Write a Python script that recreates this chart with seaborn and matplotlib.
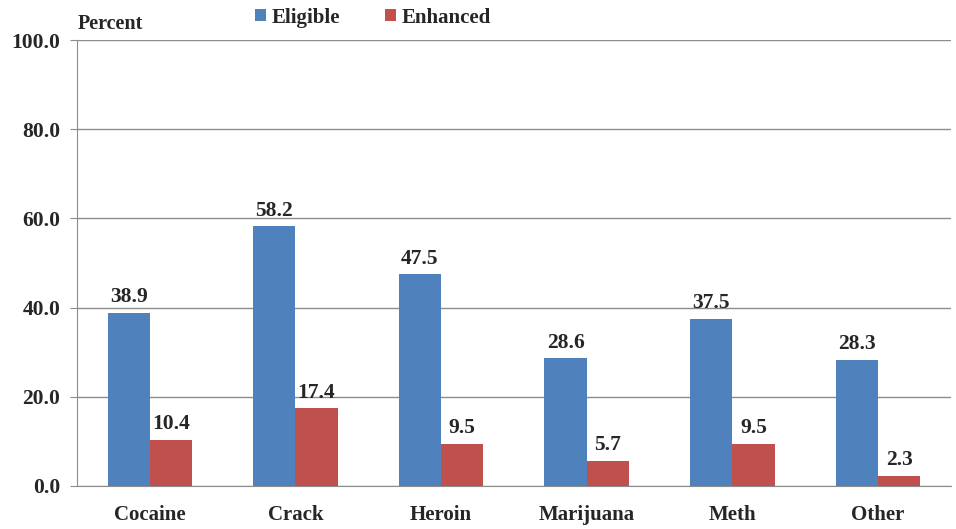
import matplotlib
matplotlib.use("Agg")
import matplotlib.pyplot as plt
import seaborn as sns
import pandas as pd

drugs = ["Cocaine", "Crack", "Heroin", "Marijuana", "Meth", "Other"]
eligible = [38.9, 58.2, 47.5, 28.6, 37.5, 28.3]
enhanced = [10.4, 17.4, 9.5, 5.7, 9.5, 2.3]
series = ["Eligible", "Enhanced"]
yticks = [0, 20, 40, 60, 80, 100]

df = pd.DataFrame({
    "drug": drugs * 2,
    "series": [series[0]] * len(drugs) + [series[1]] * len(drugs),
    "pct": eligible + enhanced,
})

sns.set_style("white")
plt.rcParams["font.family"] = ["Liberation Serif", "DejaVu Serif"]
plt.rcParams["font.weight"] = "bold"

fig = plt.figure(figsize=(9.56, 5.29), dpi=100)
ax = fig.add_axes([0.0805, 0.0813, 0.914, 0.843])

g = sns.barplot(data=df, x="drug", y="pct", hue="series",
                palette=["#4F81BD", "#C0504D"], width=0.58,
                saturation=1, ax=ax, legend=True, zorder=3, linewidth=0)

for cont in ax.containers:
    ax.bar_label(cont, fmt="%.1f", padding=4, fontsize=15.5, fontweight="bold")

ax.set_ylim(0, 100)
ax.set_yticks(yticks)
ax.set_yticklabels([f"{v:.1f}" for v in yticks], fontsize=15.5, fontweight="bold")
ax.set_xticklabels(drugs, fontsize=15, fontweight="bold")
ax.set_xlim(-0.5, len(drugs) - 0.5)
ax.grid(axis="y", color="#8c8c8c", linewidth=1, zorder=0)
ax.set_axisbelow(True)
for s in ["top", "right"]:
    ax.spines[s].set_visible(False)
ax.spines["left"].set_color("#8c8c8c")
ax.spines["bottom"].set_color("#8c8c8c")
ax.tick_params(axis="y", length=5, color="#8c8c8c", left=True, pad=7)
ax.tick_params(axis="x", length=0, pad=14)
ax.set_xlabel("")
ax.set_ylabel("")

fig.text(0.081, 0.955, "Percent", fontsize=14.5, fontweight="bold", ha="left", va="center")

leg = ax.legend(loc="upper center", bbox_to_anchor=(0.339, 1.115), ncol=2, frameon=False,
                fontsize=15, handlelength=0.5, handleheight=0.5, handletextpad=0.3,
                columnspacing=2.15)
for t in leg.get_texts():
    t.set_fontweight("bold")

plt.savefig("out.png", dpi=100)
